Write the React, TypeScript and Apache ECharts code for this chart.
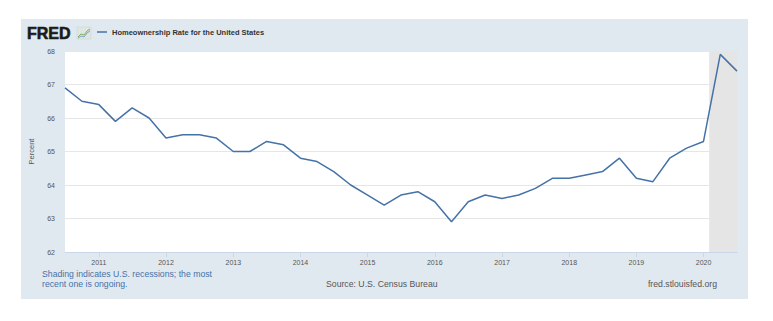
import React, { useEffect, useRef } from "react";
import * as echarts from "echarts";

const quarters: string[] = [
  "2010-07-01", "2010-10-01",
  "2011-01-01", "2011-04-01", "2011-07-01", "2011-10-01",
  "2012-01-01", "2012-04-01", "2012-07-01", "2012-10-01",
  "2013-01-01", "2013-04-01", "2013-07-01", "2013-10-01",
  "2014-01-01", "2014-04-01", "2014-07-01", "2014-10-01",
  "2015-01-01", "2015-04-01", "2015-07-01", "2015-10-01",
  "2016-01-01", "2016-04-01", "2016-07-01", "2016-10-01",
  "2017-01-01", "2017-04-01", "2017-07-01", "2017-10-01",
  "2018-01-01", "2018-04-01", "2018-07-01", "2018-10-01",
  "2019-01-01", "2019-04-01", "2019-07-01", "2019-10-01",
  "2020-01-01", "2020-04-01", "2020-07-01",
];

const homeownershipRate: number[] = [
  66.9, 66.5,
  66.4, 65.9, 66.3, 66.0,
  65.4, 65.5, 65.5, 65.4,
  65.0, 65.0, 65.3, 65.2,
  64.8, 64.7, 64.4, 64.0,
  63.7, 63.4, 63.7, 63.8,
  63.5, 62.9, 63.5, 63.7,
  63.6, 63.7, 63.9, 64.2,
  64.2, 64.3, 64.4, 64.8,
  64.2, 64.1, 64.8, 65.1,
  65.3, 67.9, 67.4,
];

const recessionStart = "2020-02-01";
const recessionEnd = "2020-07-01";
const yTicks = { min: 62, max: 68, interval: 1 };
const seriesName = "Homeownership Rate for the United States";

const YEAR_MS = 365 * 24 * 3600 * 1000;

export default function App() {
  const ref = useRef<HTMLDivElement>(null);

  useEffect(() => {
    if (!ref.current) return;
    const chart = echarts.init(ref.current, null, { renderer: "svg" });
    const data = quarters.map((d, i) => [d, homeownershipRate[i]]);
    const option: any = {
      animation: false,
      backgroundColor: "#ffffff",
      textStyle: { fontFamily: "Liberation Sans, Arial, sans-serif" },
      graphic: [
        {
          type: "rect",
          z: -100,
          silent: true,
          shape: { x: 21, y: 19, width: 727, height: 280 },
          style: { fill: "#e1e9f0" },
        },
        {
          type: "text",
          x: 27,
          y: 33,
          style: {
            text: "FRED",
            fill: "#1a1a1a",
            font: "900 16px Liberation Sans, Arial, sans-serif",
            verticalAlign: "middle",
            align: "left",
            stroke: "#1a1a1a",
            lineWidth: 0.6,
          },
        },
        {
          type: "rect",
          shape: { x: 77, y: 27, width: 14, height: 12 },
          style: { fill: "#dfe6e2", stroke: "#c8d3cc", lineWidth: 0.5 },
        },
        {
          type: "polyline",
          shape: { points: [[78, 37], [81, 34], [84, 35], [87, 31], [90, 29]] },
          style: { stroke: "#7fb069", lineWidth: 1, fill: null },
        },
        {
          type: "polyline",
          shape: { points: [[78, 38], [81, 36], [84, 37], [87, 33], [90, 31]] },
          style: { stroke: "#6a8fc0", lineWidth: 0.8, fill: null },
        },
        {
          type: "text",
          x: 42,
          y: 274,
          style: {
            text: "Shading indicates U.S. recessions; the most",
            fill: "#4572a7",
            font: "8.7px Liberation Sans, Arial, sans-serif",
            verticalAlign: "middle",
          },
        },
        {
          type: "text",
          x: 42,
          y: 284,
          style: {
            text: "recent one is ongoing.",
            fill: "#4572a7",
            font: "8.7px Liberation Sans, Arial, sans-serif",
            verticalAlign: "middle",
          },
        },
        {
          type: "text",
          x: 326,
          y: 284,
          style: {
            text: "Source: U.S. Census Bureau",
            fill: "#555555",
            font: "8.7px Liberation Sans, Arial, sans-serif",
            verticalAlign: "middle",
          },
        },
        {
          type: "text",
          x: 717,
          y: 284,
          style: {
            text: "fred.stlouisfed.org",
            fill: "#555555",
            font: "8.7px Liberation Sans, Arial, sans-serif",
            verticalAlign: "middle",
            align: "right",
          },
        },
      ],
      legend: {
        left: 97,
        top: 28,
        padding: 0,
        icon: "rect",
        itemWidth: 10,
        itemHeight: 1.5,
        itemGap: 5,
        data: [seriesName],
        textStyle: {
          fontSize: 7.5,
          fontWeight: "bold",
          color: "#333333",
        },
      },
      grid: {
        left: 65,
        right: 36,
        top: 51,
        bottom: 69,
        show: true,
        backgroundColor: "#ffffff",
        borderWidth: 0,
      },
      xAxis: {
        type: "time",
        min: quarters[0],
        max: quarters[quarters.length - 1],
        minInterval: YEAR_MS,
        maxInterval: YEAR_MS + 2 * 24 * 3600 * 1000,
        splitLine: { show: false },
        axisLine: { show: true, lineStyle: { color: "#ccd6eb", width: 1 } },
        axisTick: { show: true, length: 5, interval: 0, lineStyle: { color: "#ccd6eb" } },
        axisLabel: {
          formatter: "{yyyy}",
          fontSize: 7,
          color: "#555555",
          margin: 7,
          interval: 0,
          hideOverlap: false,
          showMinLabel: false,
          showMaxLabel: false,
        },
      },
      yAxis: {
        type: "value",
        min: yTicks.min,
        max: yTicks.max,
        interval: yTicks.interval,
        name: "Percent",
        nameLocation: "middle",
        nameGap: 30,
        nameTextStyle: { fontSize: 7.5, color: "#555555" },
        axisLine: { show: false },
        axisTick: { show: false },
        axisLabel: { fontSize: 7, color: "#555555", margin: 10 },
        splitLine: { lineStyle: { color: "#e6e6e6", width: 1 } },
      },
      series: [
        {
          name: seriesName,
          type: "line",
          data,
          symbol: "none",
          lineStyle: { color: "#4572a7", width: 1.5 },
          itemStyle: { color: "#4572a7" },
          markArea: {
            silent: true,
            itemStyle: { color: "#e5e5e5" },
            data: [[{ xAxis: recessionStart }, { xAxis: recessionEnd }]],
          },
        },
      ],
    };
    chart.setOption(option);
    return () => chart.dispose();
  }, []);

  return (
    <div
      ref={ref}
      style={{ position: "absolute", left: 0, top: 0, width: 773, height: 321 }}
    />
  );
}
